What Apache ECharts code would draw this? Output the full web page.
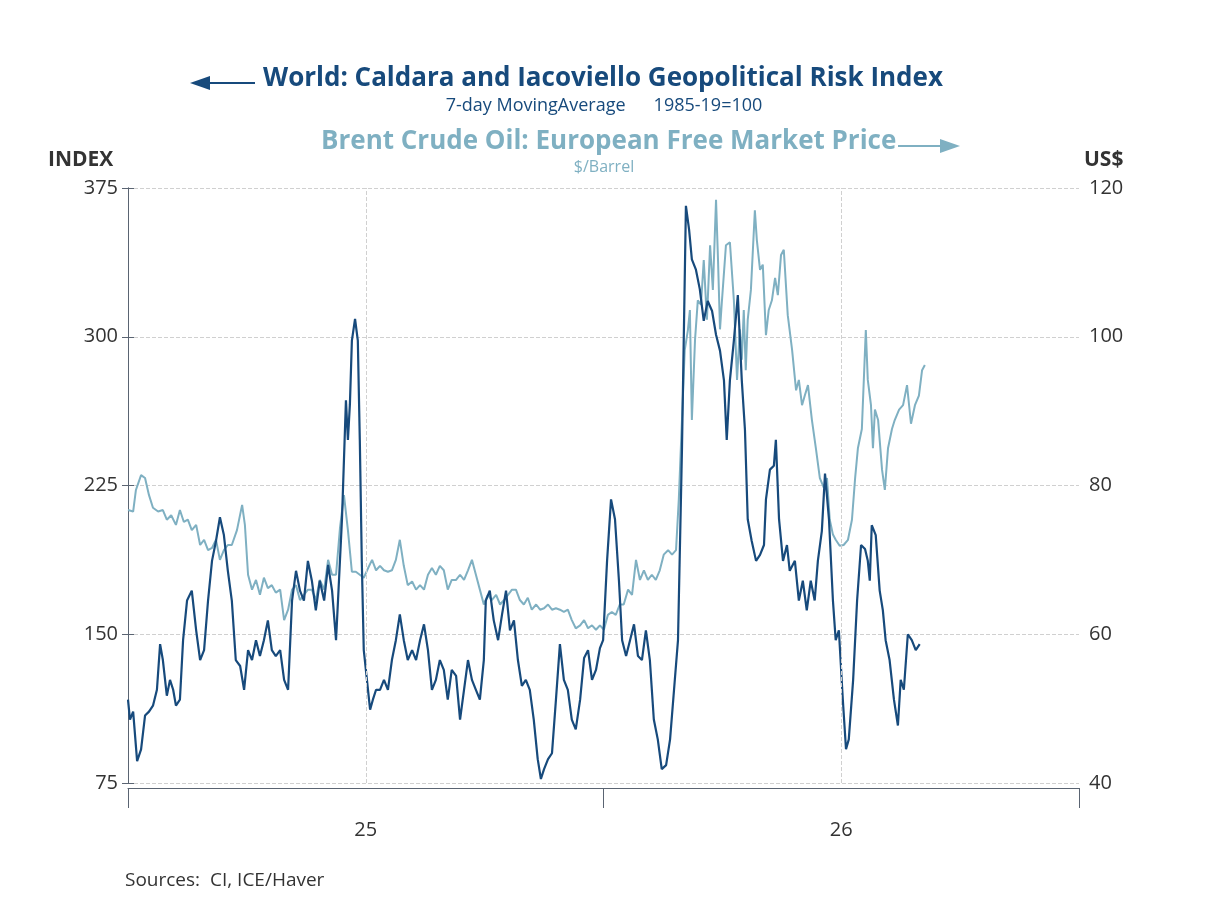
<!DOCTYPE html>
<html>
<head>
<meta charset="utf-8">
<script src="https://cdn.jsdelivr.net/npm/echarts@6/dist/echarts.min.js"></script>
<style>
  html, body { margin: 0; padding: 0; background: #fff; }
  #chart { width: 1208px; height: 906px; }
</style>
</head>
<body>
<div id="chart"></div>
<script>
// x in months since 1 Jul 2024
const gprT = [0.00,0.05,0.13,0.23,0.33,0.43,0.53,0.63,0.73,0.81,0.88,0.98,1.06,1.14,1.21,1.31,1.39,1.49,1.61,1.72,1.82,1.92,2.02,2.12,2.22,2.32,2.42,2.52,2.62,2.72,2.83,2.93,3.03,3.13,3.23,3.33,3.43,3.53,3.63,3.73,3.84,3.94,4.04,4.14,4.24,4.34,4.44,4.54,4.64,4.74,4.84,4.95,5.05,5.15,5.25,5.30,5.40,5.50,5.55,5.60,5.65,5.73,5.80,5.85,5.90,5.95,6.03,6.11,6.18,6.26,6.36,6.46,6.56,6.66,6.76,6.86,6.96,7.06,7.17,7.27,7.37,7.47,7.57,7.67,7.77,7.87,7.97,8.07,8.17,8.28,8.38,8.48,8.58,8.68,8.78,8.88,8.98,9.03,9.13,9.23,9.34,9.44,9.54,9.64,9.74,9.84,9.94,10.04,10.14,10.24,10.34,10.42,10.50,10.60,10.70,10.80,10.90,11.00,11.10,11.20,11.30,11.41,11.51,11.61,11.71,11.81,11.91,11.99,12.09,12.19,12.29,12.39,12.47,12.57,12.67,12.77,12.87,12.97,13.07,13.17,13.27,13.37,13.47,13.58,13.68,13.78,13.88,13.98,14.08,14.16,14.23,14.33,14.43,14.53,14.63,14.74,14.84,14.94,15.04,15.11,15.19,15.29,15.39,15.49,15.57,15.64,15.74,15.85,15.95,16.05,16.10,16.20,16.30,16.35,16.43,16.53,16.63,16.70,16.83,16.93,17.03,17.13,17.23,17.33,17.41,17.51,17.59,17.69,17.79,17.86,17.94,18.04,18.12,18.19,18.30,18.40,18.50,18.60,18.67,18.72,18.77,18.87,18.97,19.05,19.12,19.22,19.33,19.43,19.50,19.58,19.68,19.78,19.88,19.98];
const gprV = [117,107,111,86,92,109,111,114,122,145,137,119,127,122,114,117,147,167,172,152,137,142,167,187,197,209,200,182,167,137,134,122,142,137,147,139,147,157,142,139,142,127,122,167,182,172,167,187,177,162,177,167,185,172,147,167,208,268,248,266,298,309,298,248,187,142,127,112,117,122,122,127,122,137,147,160,147,137,142,137,147,155,142,122,127,137,132,117,132,129,107,122,137,127,122,117,137,167,172,157,147,160,172,152,157,137,124,127,122,107,87,77,82,87,90,117,145,127,122,107,102,117,138,142,127,132,143,147,187,218,208,177,147,139,147,155,139,137,152,137,107,97,82,84,97,122,147,243,366,354,339,334,324,308,318,313,301,293,278,248,278,298,321,278,253,208,197,187,190,195,218,233,235,248,208,187,195,182,187,167,177,162,177,167,187,202,231,208,167,147,152,117,92,97,127,167,195,193,187,177,205,200,172,162,147,137,117,104,127,122,150,147,142,145];

const brentT = [0.00,0.13,0.20,0.33,0.43,0.53,0.63,0.76,0.88,0.98,1.09,1.21,1.31,1.41,1.51,1.61,1.72,1.82,1.92,2.02,2.12,2.22,2.32,2.42,2.52,2.62,2.75,2.88,2.95,3.03,3.13,3.23,3.33,3.43,3.53,3.63,3.73,3.84,3.94,4.04,4.14,4.24,4.34,4.44,4.54,4.64,4.74,4.84,4.95,5.05,5.15,5.25,5.35,5.45,5.55,5.65,5.75,5.85,5.95,6.06,6.16,6.26,6.36,6.46,6.56,6.66,6.76,6.86,6.96,7.06,7.17,7.27,7.37,7.47,7.57,7.67,7.77,7.87,7.97,8.07,8.17,8.28,8.38,8.48,8.58,8.68,8.78,8.88,8.98,9.08,9.18,9.29,9.39,9.49,9.59,9.69,9.79,9.89,9.99,10.09,10.19,10.30,10.40,10.50,10.60,10.70,10.80,10.90,11.00,11.10,11.20,11.30,11.41,11.51,11.61,11.71,11.81,11.91,12.01,12.11,12.21,12.31,12.41,12.51,12.62,12.72,12.82,12.92,13.02,13.12,13.22,13.32,13.42,13.52,13.63,13.73,13.83,13.90,13.98,14.05,14.13,14.18,14.23,14.31,14.38,14.46,14.53,14.61,14.69,14.76,14.84,14.89,14.94,14.99,15.09,15.19,15.29,15.37,15.44,15.49,15.54,15.59,15.64,15.72,15.82,15.87,15.95,16.02,16.10,16.17,16.25,16.33,16.40,16.48,16.55,16.65,16.76,16.86,16.93,17.01,17.08,17.16,17.26,17.36,17.46,17.56,17.64,17.71,17.79,17.86,17.96,18.06,18.17,18.27,18.35,18.42,18.52,18.62,18.67,18.75,18.80,18.85,18.93,19.03,19.10,19.18,19.28,19.35,19.46,19.56,19.66,19.76,19.86,19.96,20.04,20.11];
const brentV = [76.7,76.5,79.4,81.4,81.0,78.7,77.0,76.5,76.7,75.4,76.0,74.7,76.7,75.1,75.4,74.0,74.7,72.0,72.7,71.3,71.6,72.7,70.0,71.3,72.0,72.0,74.0,77.4,74.7,68.0,66.0,67.3,65.3,67.6,66.2,66.6,65.6,66.0,61.9,63.3,66.0,66.6,64.6,65.3,66.0,66.0,64.6,67.3,66.0,70.0,68.0,68.0,74.3,78.7,74.0,68.4,68.4,68.0,67.6,68.9,70.0,68.6,69.2,68.6,68.4,68.6,70.0,72.7,69.2,66.6,67.1,66.0,66.6,66.0,68.0,68.9,68.0,69.2,68.6,66.0,67.3,67.3,68.0,67.3,68.6,70.0,68.0,66.0,64.0,65.3,64.6,65.3,64.0,64.6,65.3,66.0,66.0,64.6,64.0,64.9,63.3,64.0,63.3,63.5,64.0,63.3,63.5,63.3,63.0,63.3,61.9,60.8,61.2,61.9,60.8,61.2,60.6,61.2,60.6,62.6,63.0,62.6,64.0,64.0,66.0,65.3,70.0,67.3,68.6,67.3,68.0,67.3,68.6,70.7,71.3,70.7,71.3,78.1,88.8,98.2,100.9,103.6,88.8,99.6,104.9,104.3,110.3,102.3,112.3,106.3,118.4,110.3,101.0,104.9,112.3,112.7,104.9,94.2,101.0,96.9,103.6,95.5,102.3,106.3,117.0,113.0,109.0,109.7,100.2,103.6,104.9,107.9,105.6,111.0,111.7,102.9,98.2,92.8,94.2,90.8,92.1,93.5,88.8,85.0,81.0,79.7,81.0,75.4,73.4,72.7,71.9,72.0,72.7,75.4,81.0,85.0,87.6,100.9,94.2,90.8,85.0,90.2,88.8,82.1,79.4,85.0,87.6,88.8,90.2,90.8,93.5,88.3,90.8,92.1,95.5,96.2];

const yearLabels = {6: '25', 18: '26'};

const dark = '#174a7c';
const light = '#7fb0c2';
const font = '"Open Sans", "Noto Sans", sans-serif';

let myChart = echarts.init(document.getElementById('chart'));
let option = {
	animation: false,
	textStyle: {fontFamily: font},
	grid: {left: 128, right: 129, top: 188, bottom: 123},
	xAxis: [{
		type: 'value', min: 0, max: 24, interval: 6, offset: 5,
		axisLine: {lineStyle: {color: '#5a6472'}},
		axisTick: {show: false},
		splitLine: {show: false},
		axisLabel: {
			color: '#333', fontSize: 20, margin: 32,
			formatter: v => yearLabels[v] || ''
		}
	}, {
		type: 'value', min: 0, max: 24, interval: 12, position: 'bottom', offset: 5,
		axisLine: {show: false},
		axisTick: {show: true, inside: false, length: 20, lineStyle: {color: '#5a6472'}},
		axisLabel: {show: false},
		splitLine: {show: false}
	}],
	yAxis: [{
		type: 'value', min: 75, max: 375, interval: 75,
		axisLine: {show: true, lineStyle: {color: '#5a6472'}},
		axisTick: {show: true, length: 6, lineStyle: {color: '#5a6472'}},
		axisLabel: {color: '#333', fontSize: 20, margin: 10},
		splitLine: {lineStyle: {color: '#d0d0d0', type: 'dashed'}}
	}, {
		type: 'value', min: 40, max: 120, interval: 20,
		axisLine: {show: true, lineStyle: {color: '#5a6472'}},
		axisTick: {show: true, length: 6, lineStyle: {color: '#5a6472'}},
		axisLabel: {color: '#333', fontSize: 20, margin: 10},
		splitLine: {show: false}
	}],
	series: [{
		name: 'Brent', type: 'line', yAxisIndex: 1, symbol: 'none',
		data: brentT.map((t, i) => [t, brentV[i]]),
		lineStyle: {color: light, width: 2}
	}, {
		name: 'GPR', type: 'line', yAxisIndex: 0, symbol: 'none',
		data: gprT.map((t, i) => [t, gprV[i]]),
		lineStyle: {color: dark, width: 2.2},
		markLine: {
			silent: true, symbol: 'none', label: {show: false},
			lineStyle: {color: '#d0d0d0', type: 'dashed', width: 1},
			data: [{xAxis: 6}, {xAxis: 18}]
		}
	}],
	graphic: [
		// left arrow for the risk index
		{type: 'line', shape: {x1: 205, y1: 83, x2: 255, y2: 83}, style: {stroke: dark, lineWidth: 2}},
		{type: 'polygon', shape: {points: [[190, 83], [210, 76], [210, 90]]}, style: {fill: dark}},
		{type: 'text', left: 263, top: 66, style: {text: 'World: Caldara and Iacoviello Geopolitical Risk Index', fill: dark, font: 'bold 26px ' + font}},
		{type: 'text', left: 'center', top: 97, style: {text: '7-day MovingAverage      1985-19=100', fill: dark, font: '18px ' + font}},
		{type: 'text', left: 321, top: 129, style: {text: 'Brent Crude Oil: European Free Market Price', fill: light, font: 'bold 26px ' + font}},
		// right arrow for brent
		{type: 'line', shape: {x1: 898, y1: 146, x2: 945, y2: 146}, style: {stroke: light, lineWidth: 2}},
		{type: 'polygon', shape: {points: [[960, 146], [940, 139], [940, 153]]}, style: {fill: light}},
		{type: 'text', left: 'center', top: 159, style: {text: '$/Barrel', fill: light, font: '16px ' + font}},
		{type: 'text', left: 48, top: 150, style: {text: 'INDEX', fill: '#333', font: 'bold 21px ' + font}},
		{type: 'text', left: 1084, top: 150, style: {text: 'US$', fill: '#333', font: 'bold 21px ' + font}},
		{type: 'text', left: 125, top: 871, style: {text: 'Sources:  CI, ICE/Haver', fill: '#333', font: '19px ' + font}}
	]
};
myChart.setOption(option);
</script>
</body>
</html>
